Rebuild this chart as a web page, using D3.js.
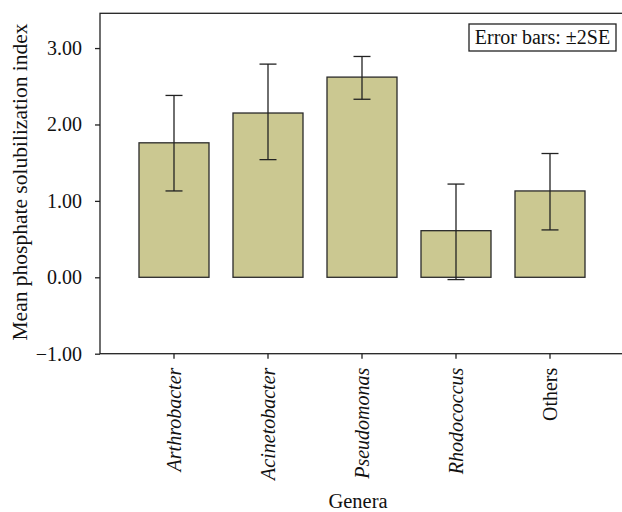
<!DOCTYPE html>
<html>
<head>
<meta charset="utf-8">
<script src="https://cdn.jsdelivr.net/npm/d3@7"></script>
<style>
  body { margin: 0; background: white; }
  svg { display: block; font-family: "Liberation Serif", "DejaVu Serif", serif; }
</style>
</head>
<body>
<div id="chart"></div>
<script>
// bar chart of mean phosphate solubilization index per genus

var genera = ["Arthrobacter", "Acinetobacter", "Pseudomonas", "Rhodococcus", "Others"];
var italicGenera = [true, true, true, true, false];
var means = [1.76, 2.15, 2.62, 0.61, 1.13];
var errLow = [1.13, 1.54, 2.33, -0.03, 0.62];
var errHigh = [2.38, 2.79, 2.89, 1.22, 1.62];
var yTicks = [-1, 0, 1, 2, 3];

var w = 622, h = 512;
var plotLeft = 100, plotTop = 13.3, plotBottom = 353.7;

var svg = d3.select("#chart")
    .append("svg")
        .attr("width", w)
        .attr("height", h);

var x = d3.scaleBand()
    .domain(genera)
    .range([127, 597])
    .paddingInner(24 / 94)
    .paddingOuter(12 / 94);

var y = d3.scaleLinear()
    .domain([-1, 3.455])
    .range([plotBottom, plotTop]);

// frame (right side runs off the picture)
svg.append("rect")
    .attr("x", plotLeft)
    .attr("y", plotTop)
    .attr("width", 540)
    .attr("height", plotBottom - plotTop)
    .attr("fill", "none")
    .attr("stroke", "#222")
    .attr("stroke-width", 1.3);

// y axis
var yAxis = svg.append("g")
    .attr("transform", "translate(" + plotLeft + ",0)")
    .call(d3.axisLeft(y).tickValues(yTicks).tickSize(5).tickPadding(13)
        .tickFormat(function(d) { return d < 0 ? "\u2212" + Math.abs(d).toFixed(2) : d.toFixed(2); }));
yAxis.select(".domain").remove();
yAxis.selectAll("line").attr("stroke", "#222").attr("stroke-width", 1.3);
yAxis.selectAll("text")
    .attr("fill", "#111")
    .style("font-size", "20px")
    .style("font-family", "Liberation Serif, serif");

// x axis
var xAxis = svg.append("g")
    .attr("transform", "translate(0," + plotBottom + ")")
    .call(d3.axisBottom(x).tickSize(5).tickPadding(0));
xAxis.select(".domain").remove();
xAxis.selectAll("line").attr("stroke", "#222").attr("stroke-width", 1.3);
xAxis.selectAll("text")
    .attr("fill", "#111")
    .attr("transform", "rotate(-90)")
    .attr("text-anchor", "end")
    .attr("x", -14)
    .attr("y", 0)
    .attr("dy", "0.33em")
    .style("font-size", "20px")
    .style("font-family", "Liberation Serif, serif")
    .style("font-style", function(d, i) { return italicGenera[i] ? "italic" : "normal"; });

// bars
svg.selectAll(".bar")
    .data(genera)
    .enter().append("rect")
        .attr("class", "bar")
        .attr("x", function(d) { return x(d); })
        .attr("y", function(d, i) { return y(means[i]); })
        .attr("width", x.bandwidth())
        .attr("height", function(d, i) { return y(0) - y(means[i]); })
        .attr("fill", "#cbc891")
        .attr("stroke", "#2a2a2a")
        .attr("stroke-width", 1.3);

// error bars
var cap = 8.5;
var eb = svg.selectAll(".err")
    .data(genera)
    .enter().append("g")
        .attr("class", "err")
        .attr("stroke", "#222")
        .attr("stroke-width", 1.3);

eb.append("line")
    .attr("x1", function(d) { return x(d) + x.bandwidth() / 2; })
    .attr("x2", function(d) { return x(d) + x.bandwidth() / 2; })
    .attr("y1", function(d, i) { return y(errLow[i]); })
    .attr("y2", function(d, i) { return y(errHigh[i]); });

eb.append("line")
    .attr("x1", function(d) { return x(d) + x.bandwidth() / 2 - cap; })
    .attr("x2", function(d) { return x(d) + x.bandwidth() / 2 + cap; })
    .attr("y1", function(d, i) { return y(errHigh[i]); })
    .attr("y2", function(d, i) { return y(errHigh[i]); });

eb.append("line")
    .attr("x1", function(d) { return x(d) + x.bandwidth() / 2 - cap; })
    .attr("x2", function(d) { return x(d) + x.bandwidth() / 2 + cap; })
    .attr("y1", function(d, i) { return y(errLow[i]); })
    .attr("y2", function(d, i) { return y(errLow[i]); });

// legend box
svg.append("rect")
    .attr("x", 469)
    .attr("y", 24)
    .attr("width", 147)
    .attr("height", 27)
    .attr("fill", "white")
    .attr("stroke", "#222")
    .attr("stroke-width", 1.3);

svg.append("text")
    .attr("x", 542.5)
    .attr("y", 43.5)
    .attr("text-anchor", "middle")
    .attr("fill", "#111")
    .style("font-size", "20px")
    .text("Error bars: \u00b12SE");

// axis titles
svg.append("text")
    .attr("transform", "translate(27,182) rotate(-90)")
    .attr("text-anchor", "middle")
    .attr("fill", "#111")
    .style("font-size", "21.5px")
    .text("Mean phosphate solubilization index");

svg.append("text")
    .attr("x", 358)
    .attr("y", 508)
    .attr("text-anchor", "middle")
    .attr("fill", "#111")
    .style("font-size", "20.5px")
    .text("Genera");
</script>
</body>
</html>
